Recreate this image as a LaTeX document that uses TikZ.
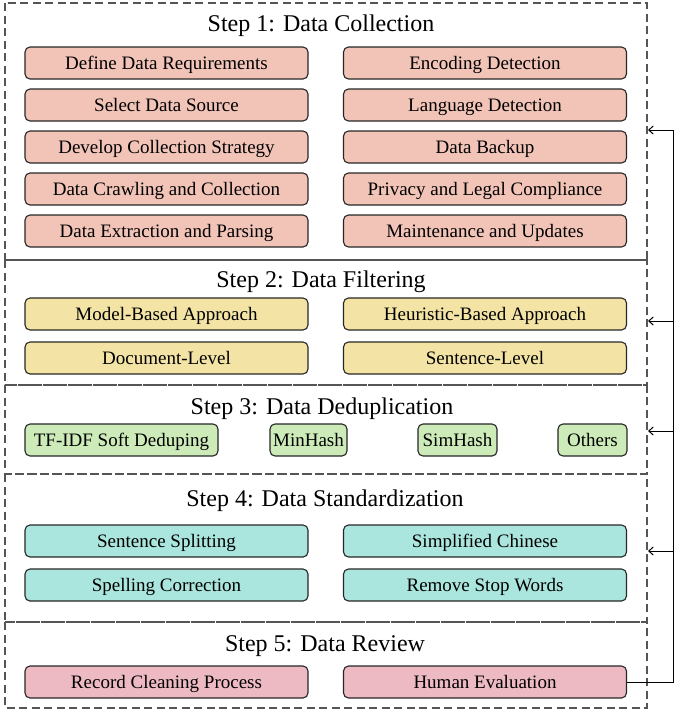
\documentclass[tikz,border=0pt]{standalone}
\usepackage{fontspec}
\setmainfont{Liberation Serif}
\usetikzlibrary{arrows.meta}
\definecolor{cA}{HTML}{F2C4B8}
\definecolor{cB}{HTML}{F3E4A6}
\definecolor{cC}{HTML}{CDEBB9}
\definecolor{cD}{HTML}{ABE6DE}
\definecolor{cE}{HTML}{EDBAC4}
\definecolor{frameclr}{HTML}{555555}
\tikzset{
  item/.style={draw=black!85, line width=1.1pt, rounded corners=5pt, minimum height=32pt, inner sep=0pt, text height=13pt, text depth=1pt, font=\fontsize{19}{22}\selectfont},
  wide/.style={item, minimum width=283pt},
  frame/.style={draw=frameclr, line width=1.4pt, dash pattern=on 8pt off 4.5pt},
  ttl/.style={font=\fontsize{24}{28}\selectfont, inner sep=0pt, anchor=base},
  back/.style={-{Straight Barb[length=4.5pt,width=8pt]}, line width=1pt, black}
}
\begin{document}
\begin{tikzpicture}[x=1pt,y=-1pt]
\useasboundingbox (0,0) rectangle (679,713);
% frames
\draw[frame] (5,3) rectangle (647,260);
\draw[frame] (5,260) rectangle (647,385);
\draw[frame] (5,385) rectangle (647,474);
\draw[frame] (5,474) rectangle (647,622);
\draw[frame] (5,622) rectangle (647,708);
% titles
\node[ttl] (t1) at (321,31) {Step 1: Data Collection};
\node[ttl] (t2) at (321,287) {Step 2: Data Filtering};
\node[ttl] (t3) at (322,414) {Step 3: Data Deduplication};
\node[ttl] (t4) at (325,506) {Step 4: Data Standardization};
\node[ttl] (t5) at (325,651) {Step 5: Data Review};
% step 1
\node[wide, fill=cA] (a1) at (166.5,63) {Define Data Requirements};
\node[wide, fill=cA] (a2) at (166.5,105) {Select Data Source};
\node[wide, fill=cA] (a3) at (166.5,147) {Develop Collection Strategy};
\node[wide, fill=cA] (a4) at (166.5,189) {Data Crawling and Collection};
\node[wide, fill=cA] (a5) at (166.5,231) {Data Extraction and Parsing};
\node[wide, fill=cA] (b1) at (485,63) {Encoding Detection};
\node[wide, fill=cA] (b2) at (485,105) {Language Detection};
\node[wide, fill=cA] (b3) at (485,147) {Data Backup};
\node[wide, fill=cA] (b4) at (485,189) {Privacy and Legal Compliance};
\node[wide, fill=cA] (b5) at (485,231) {Maintenance and Updates};
% step 2
\node[wide, fill=cB] (c1) at (166.5,314) {Model-Based Approach};
\node[wide, fill=cB] (c2) at (166.5,358) {Document-Level};
\node[wide, fill=cB] (d1) at (485,314) {Heuristic-Based Approach};
\node[wide, fill=cB] (d2) at (485,358) {Sentence-Level};
% step 3
\node[item, fill=cC, minimum width=193pt] (e1) at (121.5,440) {TF-IDF Soft Deduping};
\node[item, fill=cC, minimum width=77pt] (e2) at (308.5,440) {MinHash};
\node[item, fill=cC, minimum width=79pt] (e3) at (457.5,440) {SimHash};
\node[item, fill=cC, minimum width=69pt] (e4) at (592.5,440) {Others};
% step 4
\node[wide, fill=cD] (f1) at (166.5,541) {Sentence Splitting};
\node[wide, fill=cD] (f2) at (166.5,585) {Spelling Correction};
\node[wide, fill=cD] (g1) at (485,541) {Simplified Chinese};
\node[wide, fill=cD] (g2) at (485,585) {Remove Stop Words};
% step 5
\node[wide, fill=cE] (h1) at (166.5,682) {Record Cleaning Process};
\node[wide, fill=cE] (h2) at (485,682) {Human Evaluation};
% feedback connector
\coordinate (rb) at (673,682);
\coordinate (r1) at (673,130);
\coordinate (r2) at (673,321);
\coordinate (r3) at (673,431);
\coordinate (r4) at (673,551);
\coordinate (p1) at (648,130);
\coordinate (p2) at (648,321);
\coordinate (p3) at (648,431);
\coordinate (p4) at (648,551);
\draw[line width=1pt] (h2.east) -- (rb) -- (r1);
\draw[back] (r1) -- (p1);
\draw[back] (r2) -- (p2);
\draw[back] (r3) -- (p3);
\draw[back] (r4) -- (p4);
\end{tikzpicture}
\end{document}
